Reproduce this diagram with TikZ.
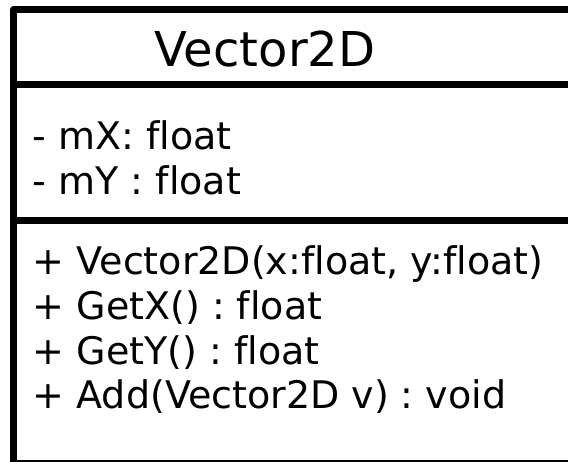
\documentclass[tikz,border=0pt]{standalone}
\usepackage{fontspec}
\setmainfont[Ligatures={NoCommon}]{DejaVu Sans}
\frenchspacing
\begin{document}
\begin{tikzpicture}[x=1pt,y=-1pt,
  member/.style={anchor=base west, inner sep=0pt, font=\fontsize{38}{46}\selectfont},
  titletext/.style={anchor=base, inner sep=0pt, font=\fontsize{48}{58}\selectfont},
  umlline/.style={line width=7pt, line join=round}]
\useasboundingbox (0,0) rectangle (568,462);
\clip (0,0) rectangle (568,462);
\draw[umlline] (13.5,9.5) rectangle (580,463.5);
\coordinate (d1l) at (13.5,85);
\coordinate (d1r) at (580,85);
\coordinate (d2l) at (13.5,221);
\coordinate (d2r) at (580,221);
\draw[umlline] (d1l) -- (d1r);
\draw[umlline] (d2l) -- (d2r);
\node[titletext] (title) at (265,67) {Vector2D};
\node[member] (a1) at (32.5,150) {- mX: float};
\node[member] (a2) at (32.5,195) {- mY : float};
\node[member] (m1) at (32.5,275) {+ Vector2D(x:float, y:float)};
\node[member] (m2) at (32.5,320) {+ GetX() : float};
\node[member] (m3) at (32.5,364.5) {+ GetY() : float};
\node[member] (m4) at (32.5,409) {+ Add(Vector2D v) : void};
\end{tikzpicture}
\end{document}
